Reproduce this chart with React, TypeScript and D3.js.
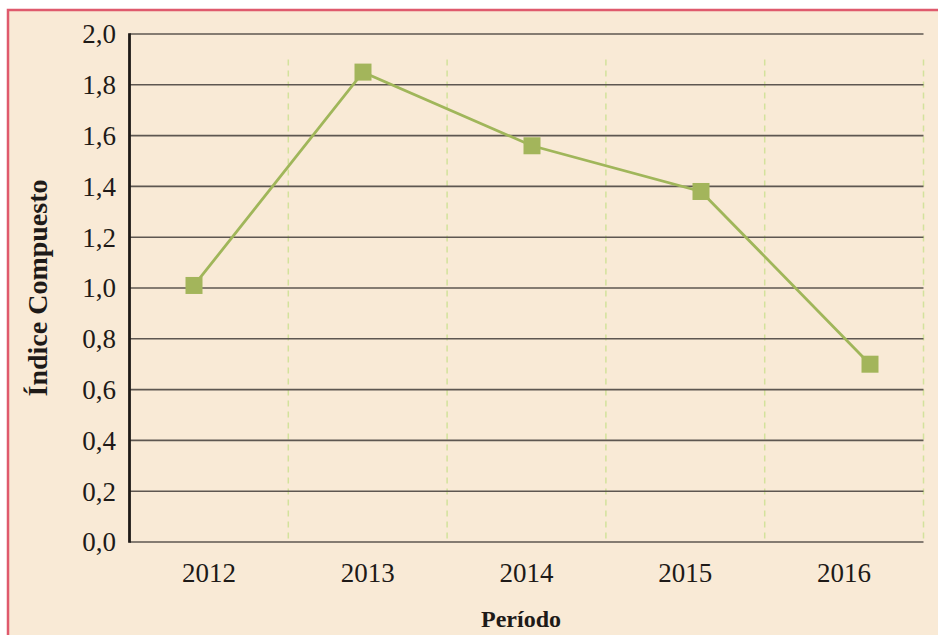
import { useEffect, useRef } from 'react'
import * as d3 from 'd3'

const years = ['2012', '2013', '2014', '2015', '2016']
const indice = [1.01, 1.85, 1.56, 1.38, 0.7]
const yTicks = [0, 0.2, 0.4, 0.6, 0.8, 1.0, 1.2, 1.4, 1.6, 1.8, 2.0]

const width = 938
const height = 635
const margin = { top: 34, right: 14.5, bottom: 93, left: 129.5 }

const BG = '#f9ead6'
const BORDER = '#df5a6d'
const GREEN = '#a0b65a'
const FONT = '"Liberation Serif", "DejaVu Serif", serif'

function App() {
  const ref = useRef<SVGSVGElement>(null)

  useEffect(() => {
    const svg = d3.select(ref.current)
    svg.selectAll('*').remove()

    // card background + pink frame
    svg
      .append('rect')
      .attr('x', 8)
      .attr('y', 10)
      .attr('width', width)
      .attr('height', height)
      .attr('fill', BG)
      .attr('stroke', BORDER)
      .attr('stroke-width', 2.5)

    const x0 = margin.left
    const x1 = width - margin.right
    const y0 = height - margin.bottom
    const y1 = margin.top

    const xBand = d3.scaleBand().domain(years).range([x0, x1])
    // the markers sit on their own, slightly wider point scale
    const xPoint = d3.scalePoint().domain(years).range([194, 870])
    const y = d3.scaleLinear().domain([0, 2]).range([y0, y1])

    const g = svg.append('g')

    // dashed vertical separators
    g.selectAll('line.vsep')
      .data(years)
      .enter()
      .append('line')
      .attr('class', 'vsep')
      .attr('x1', (d) => (xBand(d) as number) + xBand.bandwidth())
      .attr('x2', (d) => (xBand(d) as number) + xBand.bandwidth())
      .attr('y1', y(1.9))
      .attr('y2', y0)
      .attr('stroke', '#d3e29c')
      .attr('stroke-width', 1.5)
      .attr('stroke-dasharray', '6,5')

    // horizontal grid
    g.selectAll('line.hgrid')
      .data(yTicks)
      .enter()
      .append('line')
      .attr('class', 'hgrid')
      .attr('x1', x0)
      .attr('x2', x1)
      .attr('y1', (d) => y(d))
      .attr('y2', (d) => y(d))
      .attr('stroke', '#5e5751')
      .attr('stroke-width', 1.6)

    // y axis line
    g.append('line')
      .attr('x1', x0)
      .attr('x2', x0)
      .attr('y1', y1 - 0.8)
      .attr('y2', y0 + 0.8)
      .attr('stroke', '#1e1a18')
      .attr('stroke-width', 2.8)

    // y tick labels
    g.selectAll('text.ytick')
      .data(yTicks)
      .enter()
      .append('text')
      .attr('class', 'ytick')
      .attr('x', 116)
      .attr('y', (d) => y(d))
      .attr('dy', '0.35em')
      .attr('text-anchor', 'end')
      .attr('font-family', FONT)
      .attr('font-size', 27)
      .attr('fill', '#1e1a18')
      .text((d) => d3.format('.1f')(d).replace('.', ','))

    // x tick labels
    g.selectAll('text.xtick')
      .data(years)
      .enter()
      .append('text')
      .attr('class', 'xtick')
      .attr('x', (d) => (xBand(d) as number) + xBand.bandwidth() / 2)
      .attr('y', 582)
      .attr('text-anchor', 'middle')
      .attr('font-family', FONT)
      .attr('font-size', 27)
      .attr('fill', '#1e1a18')
      .text((d) => d)

    // axis titles
    g.append('text')
      .attr('x', 521)
      .attr('y', 627)
      .attr('text-anchor', 'middle')
      .attr('font-family', FONT)
      .attr('font-size', 24)
      .attr('font-weight', 'bold')
      .attr('fill', '#1e1a18')
      .text('Período')

    g.append('text')
      .attr('transform', `translate(47,288) rotate(-90)`)
      .attr('text-anchor', 'middle')
      .attr('font-family', FONT)
      .attr('font-size', 28)
      .attr('font-weight', 'bold')
      .attr('fill', '#1e1a18')
      .text('Índice Compuesto')

    // the series
    const data = years.map((yr, i) => ({ yr, v: indice[i] }))
    const line = d3
      .line<{ yr: string; v: number }>()
      .x((d) => xPoint(d.yr) as number)
      .y((d) => y(d.v))

    g.append('path')
      .datum(data)
      .attr('fill', 'none')
      .attr('stroke', GREEN)
      .attr('stroke-width', 2.8)
      .attr('d', line)

    const s = 17
    g.selectAll('rect.pt')
      .data(data)
      .enter()
      .append('rect')
      .attr('class', 'pt')
      .attr('x', (d) => (xPoint(d.yr) as number) - s / 2)
      .attr('y', (d) => y(d.v) - s / 2)
      .attr('width', s)
      .attr('height', s)
      .attr('fill', '#a3b55b')
  }, [])

  return (
    <svg
      ref={ref}
      width={width}
      height={height}
      style={{ position: 'absolute', left: 0, top: 0, background: '#fff' }}
    />
  )
}

export default App
